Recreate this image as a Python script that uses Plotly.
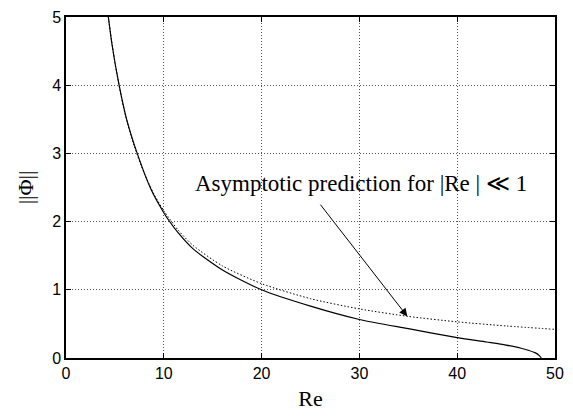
import plotly.graph_objects as go

# Numerical solution ||Phi|| vs Re (solid)
re_num = [4.33, 4.7, 5.43, 6.2, 7.28, 8.7, 10.0, 10.5, 11.5, 13.0, 16.0, 20.0, 25.0, 30.0, 35.0, 40.0, 43.0, 45.0, 47.0, 48.0, 48.4, 48.6]
phi_num = [5.0, 4.6, 4.0, 3.5, 3.0, 2.47, 2.13, 2.02, 1.83, 1.60, 1.29, 1.0, 0.76, 0.565, 0.43, 0.30, 0.235, 0.19, 0.125, 0.075, 0.035, 0.0]

# Asymptotic prediction (dotted)
re_asy = [4.33, 5.0, 6.0, 7.0, 8.0, 9.0, 10.0, 11.5, 13.0, 16.0, 20.0, 25.0, 30.0, 35.0, 40.0, 45.0, 50.0]
phi_asy = [5.0, 4.33, 3.6, 3.1, 2.71, 2.4, 2.16, 1.87, 1.65, 1.35, 1.09, 0.87, 0.72, 0.61, 0.53, 0.47, 0.42]

x_ticks = [0, 10, 20, 30, 40, 50]
y_ticks = [0, 1, 2, 3, 4, 5]

SERIF = "Liberation Serif, Times New Roman, serif"
SANS = "Liberation Sans, Arial, sans-serif"

fig = go.Figure()
fig.add_trace(go.Scatter(x=re_asy, y=phi_asy, mode="lines",
                         line=dict(color="black", width=1, dash="1.5px,2px", shape="spline", smoothing=0.7),
                         showlegend=False))
fig.add_trace(go.Scatter(x=re_num, y=phi_num, mode="lines",
                         line=dict(color="black", width=1.2, shape="spline", smoothing=0.7),
                         showlegend=False))

axis_common = dict(
    showline=True, linecolor="black", linewidth=1.5, mirror="allticks",
    ticks="inside", ticklen=5, tickcolor="black", tickwidth=1,
    showgrid=True, gridcolor="#555555", griddash="1px,2px", gridwidth=1,
    zeroline=False,
    tickfont=dict(family=SANS, size=16, color="black"),
)

fig.update_xaxes(range=[0, 50], tickvals=x_ticks, ticktext=[str(v) for v in x_ticks],
                 title=dict(text="Re", font=dict(family=SERIF, size=22, color="black"), standoff=10),
                 **axis_common)
fig.update_yaxes(range=[0, 5], tickvals=y_ticks, ticktext=[str(v) for v in y_ticks],
                 title=dict(text="||Φ||", font=dict(family=SERIF, size=22, color="black"), standoff=12),
                 **axis_common)

fig.add_annotation(x=30.2, y=2.56, xref="x", yref="y", text="Asymptotic prediction for |Re | ≪ 1",
                   showarrow=False, font=dict(family=SERIF, size=23, color="black"))
fig.add_annotation(x=34.9, y=0.61, ax=25.9, ay=2.27, xref="x", yref="y", axref="x", ayref="y",
                   text="", showarrow=True, arrowhead=2, arrowsize=1.6, arrowwidth=1, arrowcolor="black")

fig.update_layout(
    width=573, height=416,
    margin=dict(l=66, r=9, t=13, b=55),
    paper_bgcolor="white", plot_bgcolor="white",
)

fig.write_html("out.html")
